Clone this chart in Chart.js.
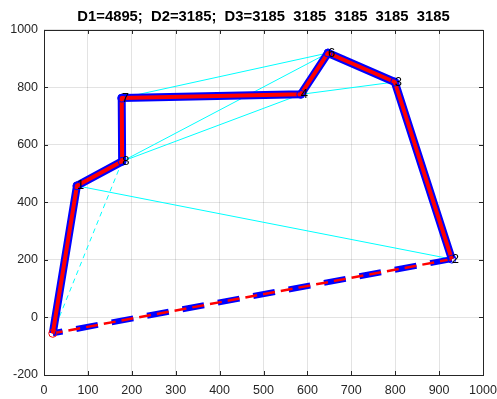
<!DOCTYPE html>
<html>
<head>
<meta charset="utf-8">
<script src="https://cdn.jsdelivr.net/npm/chart.js@4"></script>
<style>
  html, body { margin: 0; padding: 0; background: #fff; }
</style>
</head>
<body>
<canvas id="tourChart" width="497" height="399"></canvas>
<script>
// city coordinates
var cityX = [20, 75, 178, 177, 585, 647, 799, 929];
var cityY = [-55, 458, 543, 763, 776, 920, 819, 203];
var cityLabel = ['', '1', '8', '7', '4', '6', '3', '2'];

// visiting order of the tour (the last leg back to the start is dashed)
var tourOrder = [0, 1, 2, 3, 4, 5, 6, 7];

// thin cyan links
var linkFrom = [1, 3, 2, 2, 4];
var linkTo = [7, 5, 5, 4, 6];
var dashLinkFrom = [0];
var dashLinkTo = [2];

var xTicks = [0, 100, 200, 300, 400, 500, 600, 700, 800, 900, 1000];
var yTicks = [-200, 0, 200, 400, 600, 800, 1000];

var titleText = 'D1=4895;  D2=3185;  D3=3185  3185  3185  3185  3185';

function pt(i) {
  return { x: cityX[i], y: cityY[i] };
}

var tourPts = tourOrder.map(pt);
var closePts = [pt(tourOrder[tourOrder.length - 1]), pt(tourOrder[0])];

var datasets = [];

linkFrom.forEach(function (a, k) {
  datasets.push({
    data: [pt(a), pt(linkTo[k])],
    showLine: true, borderColor: '#00ffff', borderWidth: 1,
    pointRadius: 0, order: 10
  });
});
dashLinkFrom.forEach(function (a, k) {
  datasets.push({
    data: [pt(a), pt(dashLinkTo[k])],
    showLine: true, borderColor: '#00ffff', borderWidth: 1, borderDash: [5, 4],
    pointRadius: 0, order: 10
  });
});

// closing leg, blue under red
datasets.push({
  data: closePts, showLine: true, borderColor: '#0000ff', borderWidth: 6,
  borderDash: [22, 14], borderCapStyle: 'butt', pointRadius: 0, order: 8
});
datasets.push({
  data: closePts, showLine: true, borderColor: '#ff0000', borderWidth: 2.5,
  borderDash: [12, 6], pointRadius: 0, order: 7
});

// main tour, blue under red
datasets.push({
  data: tourPts, showLine: true, borderColor: '#0000ff', borderWidth: 8,
  borderJoinStyle: 'round', pointRadius: 0, order: 6
});
datasets.push({
  data: tourPts, showLine: true, borderColor: '#ff0000', borderWidth: 4,
  borderJoinStyle: 'round', pointRadius: 0, order: 5
});

// circle markers
datasets.push({
  data: tourPts.slice(1), showLine: false, pointRadius: 4,
  pointBorderColor: '#0000ff', pointBackgroundColor: 'rgba(0,0,0,0)',
  pointBorderWidth: 1, order: 4
});
datasets.push({
  data: [pt(0)], showLine: false, pointRadius: 4,
  pointBorderColor: '#ff0000', pointBackgroundColor: 'rgba(0,0,0,0)',
  pointBorderWidth: 1, order: 3
});

var axisColor = '#262626';

var boxPlugin = {
  id: 'box',
  afterDraw: function (chart) {
    var ctx = chart.ctx;
    var a = chart.chartArea;
    var xs = chart.scales.x, ys = chart.scales.y;
    ctx.save();
    ctx.strokeStyle = axisColor;
    ctx.lineWidth = 1;
    ctx.strokeRect(Math.round(a.left) + 0.5, Math.round(a.top) + 0.5,
      Math.round(a.right - a.left), Math.round(a.bottom - a.top));
    ctx.beginPath();
    xTicks.forEach(function (v) {
      var px = Math.round(xs.getPixelForValue(v)) + 0.5;
      ctx.moveTo(px, a.bottom); ctx.lineTo(px, a.bottom - 4);
      ctx.moveTo(px, a.top); ctx.lineTo(px, a.top + 4);
    });
    yTicks.forEach(function (v) {
      var py = Math.round(ys.getPixelForValue(v)) + 0.5;
      ctx.moveTo(a.left, py); ctx.lineTo(a.left + 4, py);
      ctx.moveTo(a.right, py); ctx.lineTo(a.right - 4, py);
    });
    ctx.stroke();
    ctx.restore();
  }
};

var labelPlugin = {
  id: 'cityLabels',
  afterDatasetsDraw: function (chart) {
    var ctx = chart.ctx;
    var xs = chart.scales.x, ys = chart.scales.y;
    ctx.save();
    ctx.fillStyle = '#000';
    ctx.font = '13px "Liberation Sans", Arial, sans-serif';
    ctx.textAlign = 'left';
    ctx.textBaseline = 'middle';
    cityLabel.forEach(function (t, i) {
      if (!t) return;
      ctx.fillText(t, xs.getPixelForValue(cityX[i]), ys.getPixelForValue(cityY[i]));
    });
    ctx.restore();
  }
};

Chart.defaults.font.family = '"Liberation Sans", Arial, sans-serif';
Chart.defaults.color = axisColor;

function plain(v) { return String(v); }

new Chart(document.getElementById('tourChart'), {
  type: 'scatter',
  data: { datasets: datasets },
  options: {
    responsive: false,
    animation: false,
    layout: { padding: { left: 0, right: 14, top: 0, bottom: 0 } },
    plugins: {
      legend: { display: false },
      tooltip: { enabled: false },
      title: {
        display: true, text: titleText, color: '#000', fullSize: false,
        font: { size: 14.8, weight: 'bold', lineHeight: 1.2 },
        padding: { top: 8, bottom: 4.2 }
      }
    },
    scales: {
      x: {
        type: 'linear', min: 0, max: 1000,
        afterBuildTicks: function (s) { s.ticks = xTicks.map(function (v) { return { value: v }; }); },
        afterFit: function (s) { s.height = 24; s.paddingLeft = 0; s.paddingRight = 0; },
        grid: { color: 'rgba(38,38,38,0.13)', drawTicks: false },
        border: { display: false },
        ticks: { padding: 8, font: { size: 12.5 }, maxRotation: 0, callback: plain }
      },
      y: {
        type: 'linear', min: -200, max: 1000,
        afterBuildTicks: function (s) { s.ticks = yTicks.map(function (v) { return { value: v }; }); },
        afterFit: function (s) { s.width = 44; s.paddingTop = 0; s.paddingBottom = 0; },
        grid: { color: 'rgba(38,38,38,0.13)', drawTicks: false },
        border: { display: false },
        ticks: { padding: 6, font: { size: 12.5 }, callback: plain }
      }
    }
  },
  plugins: [boxPlugin, labelPlugin]
});
</script>
</body>
</html>
